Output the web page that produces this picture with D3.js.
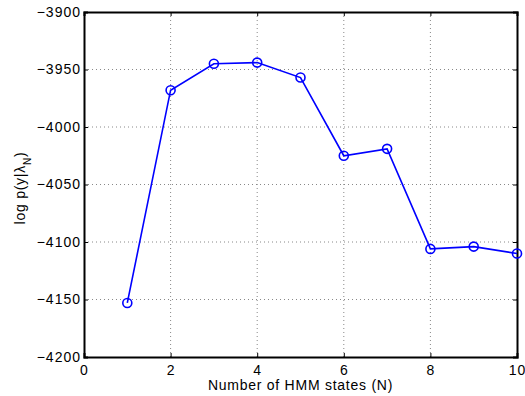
<!DOCTYPE html>
<html>
<head>
<meta charset="utf-8">
<script src="https://cdn.jsdelivr.net/npm/d3@7"></script>
<style>
  body { margin: 0; background: #fff; }
  text { font-family: "Liberation Sans", Arial, sans-serif; font-size: 14px; fill: #000; }
</style>
</head>
<body>
<svg width="525" height="396"></svg>
<script>
var states = [1, 2, 3, 4, 5, 6, 7, 8, 9, 10];
var logLik = [-4153, -3968, -3945, -3944, -3957, -4025, -4019, -4106, -4104, -4110];
var xTicks = [0, 2, 4, 6, 8, 10];
var yTicks = [-4200, -4150, -4100, -4050, -4000, -3950, -3900];

var svg = d3.select("svg"),
    margin = {top: 12, right: 8, bottom: 39, left: 84},
    width = +svg.attr("width") - margin.left - margin.right,
    height = +svg.attr("height") - margin.top - margin.bottom;

var g = svg.append("g").attr("transform", "translate(" + margin.left + "," + margin.top + ")");

var x = d3.scaleLinear().domain([0, 10]).range([0, width]);
var y = d3.scaleLinear().domain([-4200, -3900]).range([height, 0]);

var fmt = function(d) { return d < 0 ? "\u2212" + Math.abs(d) : d; };

// dotted grid
g.selectAll(".gx").data(xTicks.slice(1, -1)).enter().append("line")
    .attr("x1", function(d) { return x(d); }).attr("x2", function(d) { return x(d); })
    .attr("y1", 0).attr("y2", height)
    .attr("stroke", "#888").attr("stroke-width", 1).attr("stroke-dasharray", "1,3");
g.selectAll(".gy").data(yTicks.slice(1, -1)).enter().append("line")
    .attr("y1", function(d) { return y(d); }).attr("y2", function(d) { return y(d); })
    .attr("x1", 0).attr("x2", width)
    .attr("stroke", "#888").attr("stroke-width", 1).attr("stroke-dasharray", "1,3");

// axes (ticks inward, box on)
var xAxis = g.append("g").attr("transform", "translate(0," + height + ")")
    .call(d3.axisBottom(x).tickValues(xTicks).tickSize(-4).tickPadding(8).tickFormat(fmt));
var yAxis = g.append("g")
    .call(d3.axisLeft(y).tickValues(yTicks).tickSize(-4).tickPadding(3).tickFormat(fmt));
var xTop = g.append("g")
    .call(d3.axisTop(x).tickValues(xTicks).tickSize(-4).tickFormat(""));
var yRight = g.append("g").attr("transform", "translate(" + width + ",0)")
    .call(d3.axisRight(y).tickValues(yTicks).tickSize(-4).tickFormat(""));

[xAxis, yAxis, xTop, yRight].forEach(function(a) {
  a.select(".domain").attr("stroke", "#000").attr("stroke-width", 2);
  a.selectAll(".tick line").attr("stroke", "#000").attr("stroke-width", 1);
  a.selectAll("text").attr("font-size", 14).attr("letter-spacing", "1px")
    .attr("font-family", "Liberation Sans, Arial, sans-serif");
});

// line + markers
var line = d3.line()
    .x(function(d, i) { return x(states[i]); })
    .y(function(d) { return y(d); });

g.append("path").datum(logLik)
    .attr("d", line)
    .attr("fill", "none").attr("stroke", "#0000ff").attr("stroke-width", 1.6);

g.selectAll(".pt").data(logLik).enter().append("circle")
    .attr("cx", function(d, i) { return x(states[i]); })
    .attr("cy", function(d) { return y(d); })
    .attr("r", 4.5)
    .attr("fill", "none").attr("stroke", "#0000ff").attr("stroke-width", 1.6);

// labels
svg.append("text")
    .attr("x", margin.left + width / 2).attr("y", 390)
    .attr("text-anchor", "middle")
    .attr("letter-spacing", "0.75px")
    .text("Number of HMM states (N)");

var yl = svg.append("text")
    .attr("transform", "translate(25,188) rotate(-90)")
    .attr("text-anchor", "middle")
    .attr("letter-spacing", "0.75px");
yl.append("tspan").text("log p(y|\u03bb");
yl.append("tspan").attr("baseline-shift", "sub").attr("font-size", 10).text("N");
yl.append("tspan").text(")");
</script>
</body>
</html>
